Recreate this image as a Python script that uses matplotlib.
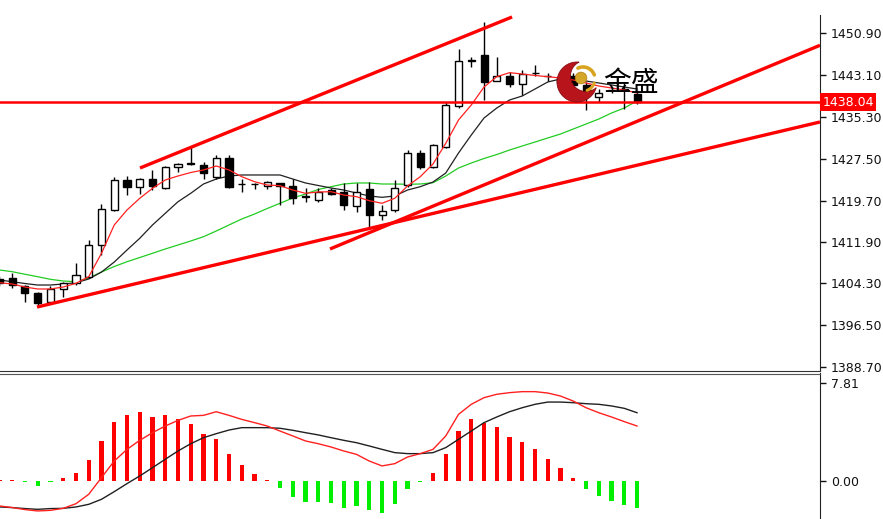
import numpy as np
import matplotlib
matplotlib.use("Agg")
import matplotlib.pyplot as plt
from matplotlib.patches import Polygon, Circle
from matplotlib.transforms import blended_transform_factory

# ---------------- data ----------------
idx = np.arange(51)
opens = [1405.0, 1405.3, 1403.8, 1402.4, 1400.9, 1403.2, 1404.3, 1405.5, 1411.4, 1417.9,
         1423.5, 1422.3, 1423.7, 1422.1, 1426.0, 1426.5, 1426.4, 1424.1, 1427.6, 1422.7,
         1422.8, 1422.5, 1422.9, 1422.5, 1420.4, 1419.8, 1421.7, 1421.35, 1418.6, 1421.8,
         1417.0, 1417.9, 1422.6, 1428.6, 1426.0, 1429.7, 1437.3, 1445.7, 1446.8, 1442.0,
         1442.8, 1441.4, 1443.4, 1442.8, 1442.5, 1442.8, 1441.2, 1439.0, 1440.3, 1440.3,
         1439.5]
highs = [1405.6, 1406.2, 1404.0, 1402.6, 1403.7, 1404.6, 1408.1, 1412.4, 1419.1, 1424.0,
         1424.3, 1423.9, 1425.4, 1426.2, 1426.6, 1429.9, 1426.9, 1428.2, 1428.2, 1423.8,
         1422.9, 1423.3, 1423.0, 1423.8, 1422.0, 1422.1, 1422.0, 1422.9, 1422.9, 1423.2,
         1418.9, 1423.5, 1429.1, 1429.1, 1430.2, 1438.0, 1447.9, 1446.5, 1452.9, 1446.5,
         1443.7, 1444.1, 1445.0, 1443.4, 1443.0, 1443.5, 1441.8, 1440.4, 1440.9, 1441.5,
         1440.3]
lows = [1403.8, 1403.4, 1400.9, 1400.3, 1400.6, 1401.7, 1404.0, 1405.3, 1409.6, 1417.7,
        1420.7, 1420.9, 1421.7, 1421.9, 1425.1, 1426.3, 1423.8, 1423.8, 1422.0, 1421.3,
        1421.8, 1421.9, 1418.8, 1419.0, 1419.4, 1419.4, 1420.8, 1417.9, 1417.6, 1414.7,
        1416.1, 1417.6, 1422.3, 1425.5, 1425.8, 1429.5, 1436.9, 1444.6, 1438.4, 1441.9,
        1440.9, 1439.35, 1442.8, 1442.0, 1441.0, 1440.8, 1436.6, 1438.0, 1439.7, 1436.7,
        1437.6]
closes = [1404.3, 1404.0, 1402.5, 1400.6, 1403.2, 1404.4, 1405.8, 1411.4, 1418.1, 1423.5,
          1422.3, 1423.7, 1422.4, 1426.0, 1426.5, 1426.6, 1424.8, 1427.6, 1422.3, 1422.8,
          1422.7, 1423.1, 1422.5, 1420.1, 1420.5, 1421.35, 1421.0, 1418.9, 1421.35, 1417.0,
          1417.8, 1422.0, 1428.6, 1426.0, 1430.0, 1437.5, 1445.7, 1445.8, 1441.8, 1442.8,
          1441.4, 1443.3, 1443.4, 1442.8, 1441.6, 1441.2, 1440.0, 1439.7, 1440.35, 1440.4,
          1438.04]

ma_red = [1404.40, 1404.16, 1403.60, 1403.23, 1403.23, 1403.60, 1404.29, 1405.52, 1409.88, 1415.15,
          1417.94, 1420.12, 1421.98, 1423.53, 1424.27, 1424.92, 1425.39, 1426.13, 1425.39, 1424.14,
          1423.21, 1422.59, 1422.46, 1421.66, 1421.05, 1421.29, 1421.35, 1420.73, 1420.42, 1419.67,
          1419.19, 1420.12, 1422.41, 1424.14, 1426.51, 1430.36, 1434.70, 1437.49, 1440.84, 1442.76,
          1443.51, 1443.26, 1442.99, 1442.76, 1442.52, 1442.15, 1441.59, 1441.03, 1440.66, 1440.29,
          1439.73]
ma_black = [1404.90, 1404.59, 1404.25, 1403.97, 1403.97, 1404.16, 1404.40, 1405.09, 1406.39, 1408.25,
            1410.49, 1412.67, 1415.15, 1417.32, 1419.48, 1421.05, 1422.78, 1423.71, 1424.27, 1424.46,
            1424.46, 1424.46, 1424.46, 1423.71, 1422.97, 1422.50, 1422.04, 1421.66, 1421.10, 1420.55,
            1420.30, 1420.55, 1421.66, 1422.28, 1423.15, 1424.83, 1428.55, 1431.90, 1435.07, 1436.93,
            1438.42, 1439.17, 1440.47, 1441.78, 1442.33, 1442.15, 1441.96, 1441.59, 1441.22, 1440.84,
            1440.47]
ma_green = [1406.77, 1406.45, 1405.97, 1405.52, 1405.03, 1404.72, 1404.59, 1405.28, 1406.39, 1407.42,
            1408.31, 1409.09, 1409.88, 1410.68, 1411.42, 1412.17, 1412.97, 1414.03, 1415.15, 1416.26,
            1417.19, 1418.22, 1419.19, 1420.17, 1420.92, 1421.76, 1422.28, 1422.78, 1422.97, 1422.97,
            1422.78, 1422.78, 1422.73, 1422.78, 1423.02, 1424.27, 1425.76, 1426.69, 1427.53, 1428.27,
            1429.11, 1429.86, 1430.60, 1431.35, 1432.09, 1433.02, 1433.95, 1434.88, 1436.00, 1436.93,
            1438.24]

macd_hist = [0.08, 0.05, -0.05, -0.40, -0.08, 0.27, 0.66, 1.65, 3.19, 4.73,
             5.23, 5.52, 5.13, 5.23, 4.97, 4.52, 3.77, 3.32, 2.18, 1.25,
             0.53, 0.08, -0.53, -1.27, -1.65, -1.65, -1.73, -2.12, -1.99, -2.34,
             -2.52, -1.86, -0.66, -0.08, 0.66, 2.18, 3.98, 4.91, 4.60, 4.30,
             3.51, 3.11, 2.52, 1.78, 1.06, 0.27, -0.66, -1.20, -1.59, -1.94,
             -2.18]
macd_red = [-1.99, -2.12, -2.28, -2.39, -2.34, -2.18, -1.81, -1.06, 0.27, 1.59,
            2.52, 3.24, 3.85, 4.38, 4.83, 5.18, 5.23, 5.52, 5.23, 4.91,
            4.65, 4.38, 3.98, 3.59, 3.19, 2.97, 2.71, 2.39, 2.12, 1.59,
            1.20, 1.38, 1.91, 2.18, 2.52, 3.59, 5.31, 6.11, 6.64, 6.91,
            7.04, 7.12, 7.12, 7.01, 6.77, 6.37, 5.84, 5.44, 5.10, 4.73,
            4.38]
macd_black = [-2.07, -2.12, -2.20, -2.26, -2.20, -2.18, -2.07, -1.86, -1.46, -0.85,
              -0.21, 0.40, 1.06, 1.73, 2.39, 2.97, 3.45, 3.77, 4.06, 4.25,
              4.25, 4.25, 4.20, 4.04, 3.85, 3.67, 3.45, 3.24, 3.05, 2.79,
              2.52, 2.26, 2.18, 2.18, 2.26, 2.66, 3.32, 3.98, 4.65, 5.10,
              5.52, 5.84, 6.11, 6.29, 6.29, 6.24, 6.16, 6.11, 5.98, 5.79,
              5.44]

trend_upper_x = [11.02, 40.2]
trend_upper_y = [1425.76, 1453.88]
trend_mid_x = [25.92, 64.35]
trend_mid_y = [1410.68, 1448.61]
trend_low_x = [2.94, 64.35]
trend_low_y = [1399.87, 1434.33]
current_price = 1438.04

price_ticks = [1450.90, 1443.10, 1435.30, 1427.50, 1419.70, 1411.90, 1404.30, 1396.50, 1388.70]
macd_ticks = [7.81, 0.00]

# ---------------- figure ----------------
W, H = 883, 519
fig = plt.figure(figsize=(W / 100, H / 100), dpi=100)
fig.patch.set_facecolor("white")


def px_axes(x0, y0, x1, y1):
    return fig.add_axes([x0 / W, 1 - y1 / H, (x1 - x0) / W, (y1 - y0) / H])


ax = px_axes(0, 15, 820, 371)
axm = px_axes(0, 373.5, 820, 519)

O = np.array(opens); C = np.array(closes); Hh = np.array(highs); L = np.array(lows)
up = C >= O
ax.vlines(idx, L, Hh, color="black", lw=1, zorder=3)
ax.bar(idx, np.maximum(np.abs(C - O), 0.05), bottom=np.minimum(O, C), width=0.55,
       color=np.where(up, "white", "black"), edgecolor="black", lw=1, zorder=4)

ax.plot(idx, ma_green, color="#22cc22", lw=0.9, zorder=2)
ax.plot(idx, ma_black, color="#202020", lw=0.9, zorder=2)
ax.plot(idx, ma_red, color="#ff2020", lw=0.9, zorder=5)

ax.plot(trend_upper_x, trend_upper_y, color="#ff0000", lw=2.4, zorder=6, solid_capstyle="butt")
ax.plot(trend_mid_x, trend_mid_y, color="#ff0000", lw=2.4, zorder=6, solid_capstyle="butt")
ax.plot(trend_low_x, trend_low_y, color="#ff0000", lw=2.4, zorder=6, solid_capstyle="butt")
ax.axhline(current_price, color="#ff0000", lw=1.8, zorder=6)

ax.set_xlim(0.04, 64.35)
ax.set_ylim(1387.96, 1454.25)
ax.set_xticks([])
ax.yaxis.tick_right()
ax.set_yticks(price_ticks)
ax.set_yticklabels([f"{v:.2f}" for v in price_ticks])
ax.tick_params(axis="y", direction="out", length=4, width=1, pad=4, labelsize=9,
               colors="#111111")
for s in ["left", "top"]:
    ax.spines[s].set_visible(False)
ax.spines["right"].set_color("#222222")
ax.spines["bottom"].set_color("#333333")

tr = blended_transform_factory(ax.transAxes, ax.transData)
ax.text(1.003, current_price, f"{current_price:.2f}", transform=tr, color="white",
        fontsize=9, va="center", ha="left", zorder=10, clip_on=False,
        bbox=dict(boxstyle="square,pad=0.18", fc="#ff0000", ec="none"))

# MACD pane
hist = np.array(macd_hist)
axm.bar(idx, hist, width=0.32, color=np.where(hist >= 0, "#ff0000", "#00ee00"), lw=0, zorder=2)
axm.plot(idx, macd_black, color="#202020", lw=1.0, zorder=3)
axm.plot(idx, macd_red, color="#ff2020", lw=1.0, zorder=3)
axm.set_xlim(0.04, 64.35)
axm.set_ylim(-3.03, 8.566)
axm.set_xticks([])
axm.yaxis.tick_right()
axm.set_yticks(macd_ticks)
axm.set_yticklabels([f"{v:.2f}" for v in macd_ticks])
axm.tick_params(axis="y", direction="out", length=4, width=1, pad=4, labelsize=9,
                colors="#111111")
for s in ["left", "bottom"]:
    axm.spines[s].set_visible(False)
axm.spines["right"].set_color("#222222")
axm.spines["top"].set_color("#555555")

# ---------------- logo overlay ----------------
ov = fig.add_axes([0, 0, 1, 1], zorder=20)
ov.set_xlim(0, W)
ov.set_ylim(H, 0)
ov.axis("off")
ov.patch.set_alpha(0)


def arc_points(c, r, keep):
    t = np.linspace(0, 2 * np.pi, 721)[:-1]
    p = np.column_stack([c[0] + r * np.cos(t), c[1] + r * np.sin(t)])
    m = keep(p)
    k = int(np.argmax(~m))
    p = np.roll(p, -k, axis=0)
    m = np.roll(m, -k)
    return p[m]


c1, r1 = np.array([577.0, 82.0]), 20.0
c2, r2 = np.array([586.0, 76.0]), 15.5
outer = arc_points(c1, r1, lambda p: np.hypot(*(p - c2).T) > r2)
inner = arc_points(c2, r2, lambda p: np.hypot(*(p - c1).T) < r1)
ov.add_patch(Polygon(np.vstack([outer, inner[::-1]]), closed=True, fc="#b8141c",
                     ec="#8a0c12", lw=0.6))
t = np.radians(np.linspace(-115, -20, 40))
ov.plot(583 + 12 * np.cos(t), 79 + 12 * np.sin(t), color="#d9a520", lw=2.6,
        solid_capstyle="round")
t = np.radians(np.linspace(20, 70, 20))
ov.plot(583 + 12 * np.cos(t), 79 + 12 * np.sin(t), color="#d9a520", lw=2.2,
        solid_capstyle="round")
ov.add_patch(Circle((581, 78), 5.8, fc="#d4a62a", ec="#b8861a", lw=0.6))
ov.text(603, 83, "金盛", fontsize=20, family=["Noto Sans CJK SC", "DejaVu Sans"],
        va="center", ha="left", color="black")

fig.savefig("out.png", dpi=100)
